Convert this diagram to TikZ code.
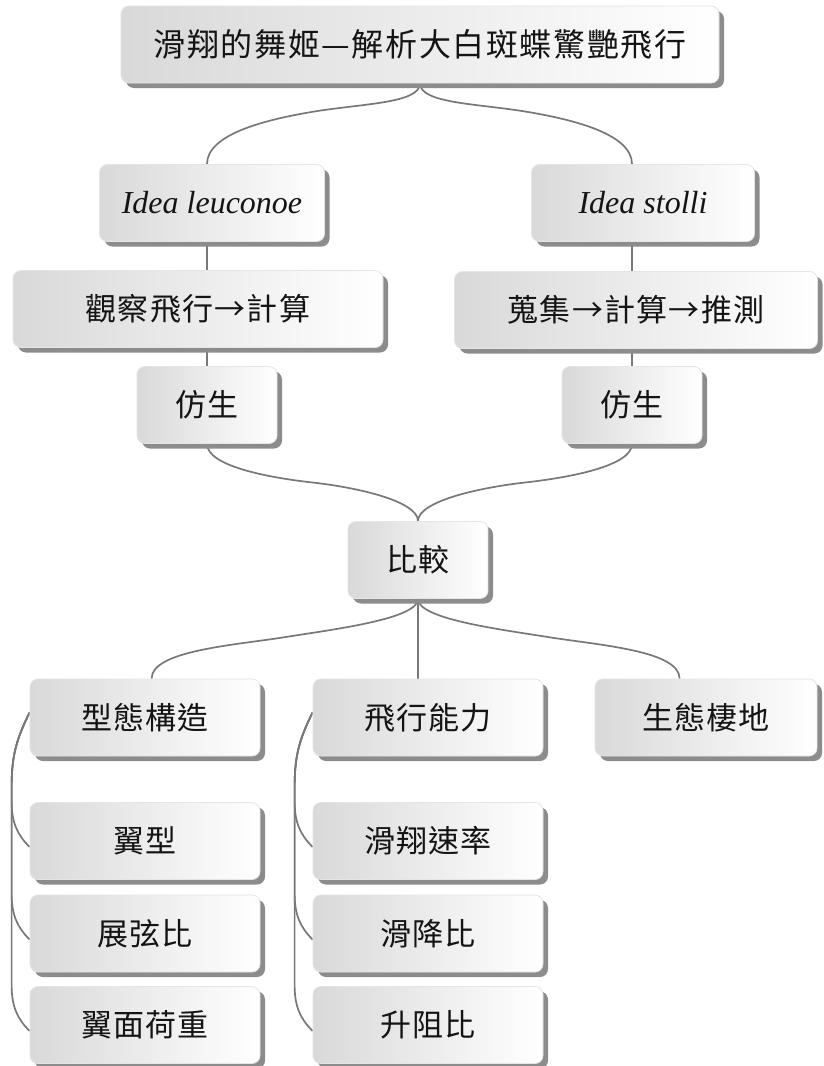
\documentclass[tikz,border=0pt]{standalone}
\usepackage{fontspec}
\setmainfont{Liberation Serif}
\newfontfamily\cjkf{Noto Sans CJK TC}[LetterSpace=4]
\newfontfamily\cjkt{Noto Sans CJK TC}[LetterSpace=5]
\usetikzlibrary{calc,shadows}
\pgfdeclarelayer{bg}
\pgfsetlayers{bg,main}
\begin{document}
\begin{tikzpicture}[x=1pt,y=-1pt,
  box/.style={rectangle, rounded corners=8, draw=black!10, line width=0.8,
    left color=black!15, right color=white, minimum height=77, inner sep=0,
    text=black!92,
    drop shadow={shadow xshift=5pt, shadow yshift=-5pt, fill=black!45, opacity=1}},
  zh/.style={font=\cjkf\fontsize{31}{36}\selectfont},
  zt/.style={font=\cjkt\fontsize{32}{38}\selectfont},
  la/.style={font=\fontsize{32}{38}\selectfont\itshape},
  link/.style={draw=black!53, line width=1.7}]
\useasboundingbox (0,0) rectangle (824,1066);

\node[box,zt,minimum width=598] (title) at (420,44.5) {滑翔的舞姬—解析大白斑蝶驚艷飛行};
\node[box,la,minimum width=225] (la) at (212,203) {Idea leuconoe};
\node[box,zh,minimum width=370] (lb) at (198,309) {觀察飛行→計算};
\node[box,zh,minimum width=140] (lc) at (207,405) {仿生};
\node[box,la,minimum width=223] (ra) at (643,203) {Idea stolli};
\node[box,zh,minimum width=363] (rb) at (636,310) {蒐集→計算→推測};
\node[box,zh,minimum width=140] (rc) at (632,405) {仿生};
\node[box,zh,minimum width=140] (cmp) at (418,560) {比較};
\node[box,zh,minimum width=230] (m1) at (145,717.5) {型態構造};
\node[box,zh,minimum width=230] (m2) at (428,717.5) {飛行能力};
\node[box,zh,minimum width=222] (m3) at (706,717.5) {生態棲地};
\node[box,zh,minimum width=230] (a1) at (145,841) {翼型};
\node[box,zh,minimum width=230] (a2) at (145,933.5) {展弦比};
\node[box,zh,minimum width=230] (a3) at (145,1025) {翼面荷重};
\node[box,zh,minimum width=230] (b1) at (428,841) {滑翔速率};
\node[box,zh,minimum width=230] (b2) at (428,933.5) {滑降比};
\node[box,zh,minimum width=230] (b3) at (428,1025) {升阻比};

\begin{pgfonlayer}{bg}
\fill[white] (0,0) rectangle (824,1066);
% title -> species
\coordinate (t1) at (lc.north |- la.north);
\coordinate (t2) at (rc.north |- ra.north);
\coordinate (tm1x) at ($(title.south)!.5!(t1)$);
\coordinate (tm1y) at ($(title.south)!.35!(t1)$);
\coordinate (tm1) at (tm1x |- tm1y);
\coordinate (tm2x) at ($(title.south)!.5!(t2)$);
\coordinate (tm2y) at ($(title.south)!.35!(t2)$);
\coordinate (tm2) at (tm2x |- tm2y);
\draw[link] (title.south) .. controls +(0,20) and +(48,-8) .. (tm1) .. controls +(-48,8) and +(0,-30) .. (t1);
\draw[link] (title.south) .. controls +(0,20) and +(-48,-8) .. (tm2) .. controls +(48,8) and +(0,-30) .. (t2);
% columns
\draw[link] (lc.north |- la.south) -- (lc.north |- lb.north);
\draw[link] (lb.south -| lc.north) -- (lc.north);
\draw[link] (rc.north |- ra.south) -- (rc.north |- rb.north);
\draw[link] (rb.south -| rc.north) -- (rc.north);
% 仿生 -> 比較
\coordinate (cm1) at ($(lc.south)!.5!(cmp.north)$);
\coordinate (cm2) at ($(rc.south)!.5!(cmp.north)$);
\draw[link] (lc.south) .. controls +(0,22) and +(-45,-5) .. (cm1) .. controls +(45,5) and +(0,-20) .. (cmp.north);
\draw[link] (rc.south) .. controls +(0,22) and +(45,-5) .. (cm2) .. controls +(-45,5) and +(0,-20) .. (cmp.north);
% 比較 -> categories
\coordinate (e1) at ($(m1.north west)+(122,0)$);
\coordinate (e3) at ($(m3.north west)+(85,0)$);
\coordinate (bm1x) at ($(cmp.south)!.5!(e1)$);
\coordinate (bm1y) at ($(cmp.south)!.48!(e1)$);
\coordinate (bm1) at (bm1x |- bm1y);
\coordinate (bm3x) at ($(cmp.south)!.5!(e3)$);
\coordinate (bm3y) at ($(cmp.south)!.48!(e3)$);
\coordinate (bm3) at (bm3x |- bm3y);
\draw[link] (cmp.south) .. controls +(0,20) and +(50,-8) .. (bm1) .. controls +(-50,8) and +(0,-28) .. (e1);
\draw[link] (cmp.south) .. controls +(0,20) and +(-50,-8) .. (bm3) .. controls +(50,8) and +(0,-28) .. (e3);
\draw[link] (cmp.south) -- (cmp.south |- m2.north);
% side branches
\foreach \c in {a1,a2,a3}{
  \draw[link] ($(m1.west)+(0,-5)$) .. controls +(-14,28) and +(0,-30) .. ($(m1.west)+(-18,70)$)
    -- ($(\c.west)+(-18,-40)$) .. controls +(0,22) and +(-12,-12) .. ($(\c.west)+(0,6)$);
}
\foreach \c in {b1,b2,b3}{
  \draw[link] ($(m2.west)+(0,-5)$) .. controls +(-14,28) and +(0,-30) .. ($(m2.west)+(-18,70)$)
    -- ($(\c.west)+(-18,-40)$) .. controls +(0,22) and +(-12,-12) .. ($(\c.west)+(0,6)$);
}
\end{pgfonlayer}
\end{tikzpicture}
\end{document}
